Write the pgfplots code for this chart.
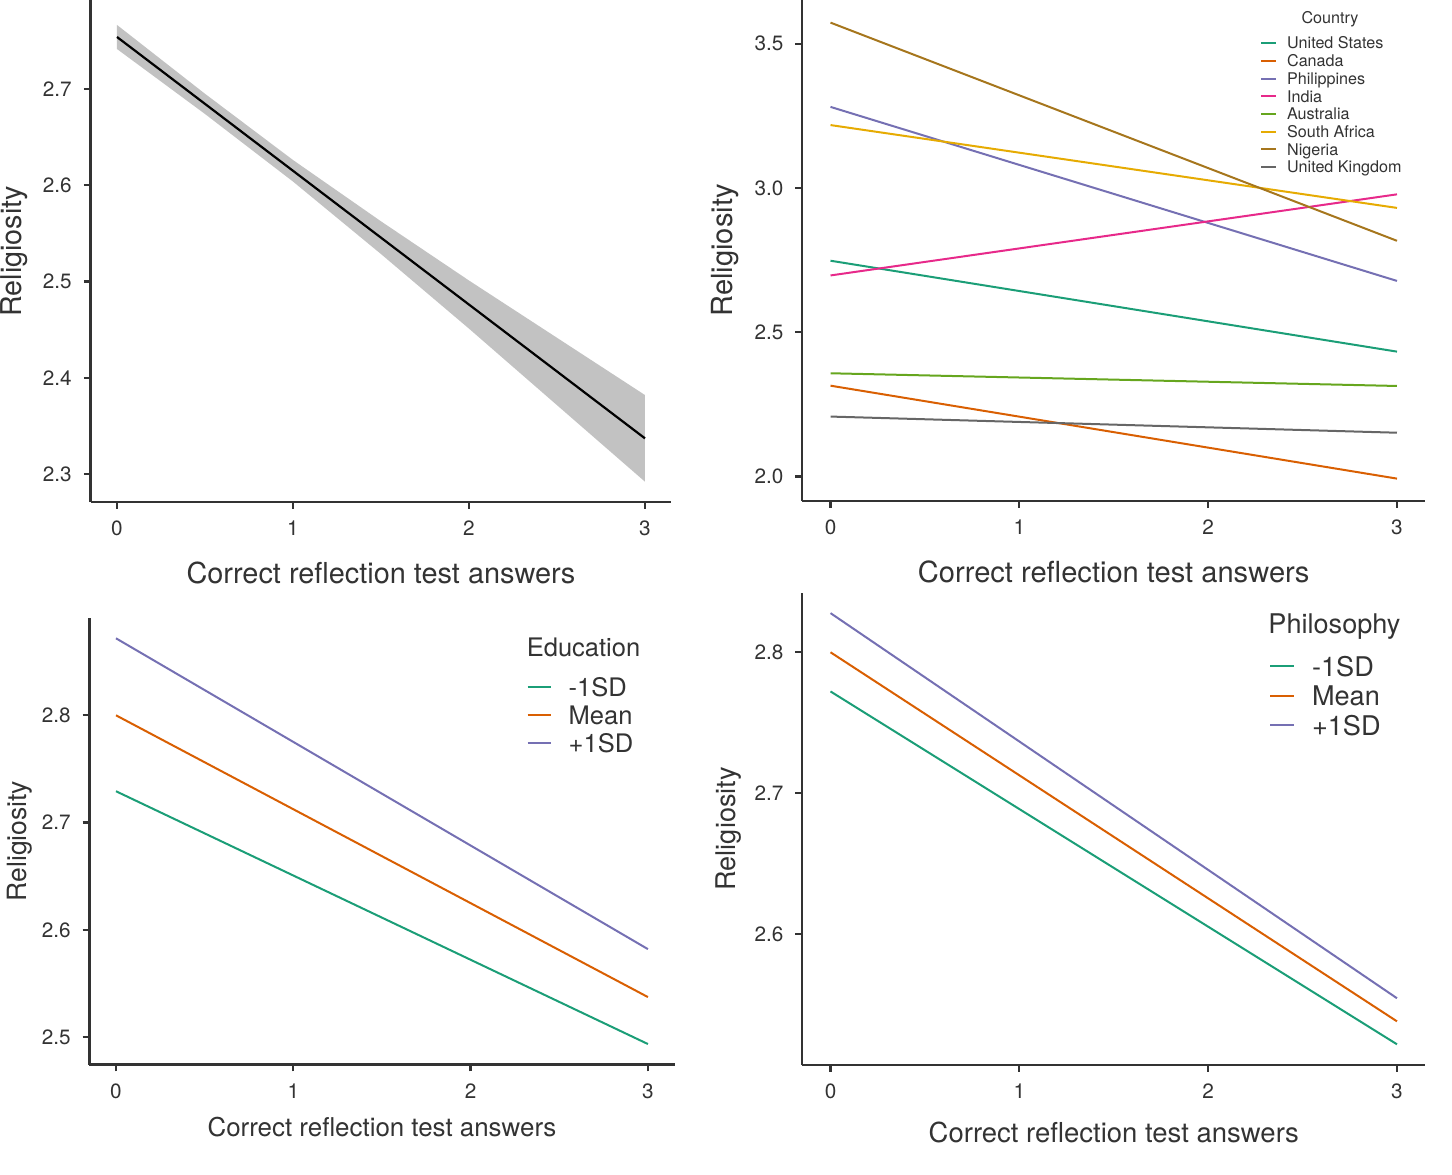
\documentclass[border=0pt]{standalone}
\usepackage{pgfplots}
\pgfplotsset{compat=1.18}
\usepackage{fontspec}
\setmainfont{TeX Gyre Heros}
\definecolor{cUS}{HTML}{1B9E77}
\definecolor{cCA}{HTML}{D95F02}
\definecolor{cPH}{HTML}{7570B3}
\definecolor{cIN}{HTML}{E7298A}
\definecolor{cAU}{HTML}{66A61E}
\definecolor{cSA}{HTML}{E6AB02}
\definecolor{cNG}{HTML}{A6761D}
\definecolor{cUK}{HTML}{666666}
\definecolor{txt}{HTML}{333333}
\definecolor{axc}{HTML}{333333}
\definecolor{rib}{HTML}{C2C2C2}
\pgfplotsset{
  gg/.style={
    scale only axis,
    axis lines*=left,
    axis line style={axc, line width=1.15bp},
    tick align=outside,
    major tick length=3.4bp,
    tick style={axc, line width=1.15bp},
    xtick={0,1,2,3},
    xmin=-0.15, xmax=3.15,
    ticklabel style={font=\fontsize{10.4}{12}\selectfont, text=txt},
    /pgf/number format/assume math mode=true,
    yticklabel style={/pgf/number format/fixed, /pgf/number format/fixed zerofill, /pgf/number format/precision=1, xshift=-2.5bp},
    xticklabel style={yshift=-2.5bp},
    every axis plot/.append style={line width=1bp},
    legend cell align=left,
    clip=false,
  },
}
\begin{document}
\begin{tikzpicture}
\path[use as bounding box] (0,0) rectangle (726bp,-587.5bp);

% Panel 1
\begin{axis}[gg, anchor=south west, at={(45.3bp,-251bp)}, width=290.4bp, height=250.75bp,
  ymin=2.2709, ymax=2.7919, ytick={2.3,2.4,2.5,2.6,2.7},
  xlabel={Correct reflection test answers}, ylabel={Religiosity},
  xlabel style={at={(axis description cs:0.5,-0.1416)}, anchor=center, font=\fontsize{14.5}{17}\selectfont, text=txt},
  ylabel style={at={(axis description cs:-0.1315,0.5)}, anchor=center, font=\fontsize{14.4}{17}\selectfont, text=txt}]
\addplot[fill=rib, draw=none, line width=0pt] coordinates {
 (0,2.7665) (0.5,2.695) (1,2.6262) (1.5,2.5625) (2,2.501) (2.5,2.4415) (3,2.382)
 (3,2.292) (2.5,2.3715) (2,2.451) (1.5,2.5285) (1,2.6038) (0.5,2.674) (0,2.7415)} -- cycle;
\addplot[black, line width=1.1bp] coordinates {(0,2.754) (3,2.337)};
\end{axis}

% Panel 2
\begin{axis}[gg, anchor=south west, at={(401.1bp,-250.4bp)}, width=311.55bp, height=250.4bp,
  ymin=1.9161, ymax=3.6514, ytick={2.0,2.5,3.0,3.5},
  xlabel={Correct reflection test answers}, ylabel={Religiosity},
  xlabel style={at={(axis description cs:0.5,-0.1422)}, anchor=center, font=\fontsize{14.6}{17}\selectfont, text=txt},
  ylabel style={at={(axis description cs:-0.1245,0.5)}, anchor=center, font=\fontsize{14.6}{17}\selectfont, text=txt},
  legend style={at={(axis description cs:0.7349,0.9263)}, anchor=north west, draw=none, fill=none, inner sep=0pt, outer sep=0pt, row sep=0pt, column sep=5bp,
    font=\fontsize{8.1}{9}\selectfont, text=txt, cells={anchor=base west}, nodes={inner sep=0pt, text height=6bp, text depth=2.85bp}},
  legend image code/.code={\draw[#1, line width=1bp] (0bp,2.9bp) -- (7.5bp,2.9bp);}]
\addplot[cUS] coordinates {(0,2.748) (3,2.433)};
\addplot[cCA] coordinates {(0,2.315) (3,1.993)};
\addplot[cPH] coordinates {(0,3.281) (3,2.678)};
\addplot[cIN] coordinates {(0,2.697) (3,2.978)};
\addplot[cAU] coordinates {(0,2.358) (3,2.314)};
\addplot[cSA] coordinates {(0,3.218) (3,2.931)};
\addplot[cNG] coordinates {(0,3.573) (3,2.817)};
\addplot[cUK] coordinates {(0,2.208) (3,2.152)};
\legend{United States, Canada, Philippines, India, Australia, South Africa, Nigeria, United Kingdom}
\node[anchor=base, font=\fontsize{8.1}{9}\selectfont, text=txt, inner sep=0pt] at (axis description cs:0.8471,0.9535) {Country};
\end{axis}

% Panel 3
\begin{axis}[gg, anchor=south west, at={(44.7bp,-532.25bp)}, width=292.55bp, height=223.4bp,
  ymin=2.4744, ymax=2.891, ytick={2.5,2.6,2.7,2.8},
  xlabel={Correct reflection test answers}, ylabel={Religiosity},
  xlabel style={at={(axis description cs:0.5,-0.1399)}, anchor=center, font=\fontsize{13}{15}\selectfont, text=txt},
  ylabel style={at={(axis description cs:-0.1198,0.5)}, anchor=center, font=\fontsize{13.3}{15}\selectfont, text=txt},
  legend style={at={(axis description cs:0.7474,0.8691)}, anchor=north west, draw=none, fill=none, inner sep=0pt, outer sep=0pt, row sep=0pt, column sep=8.5bp,
    font=\fontsize{12.8}{15}\selectfont, text=txt, cells={anchor=base west}, nodes={inner sep=0pt, text height=10bp, text depth=4bp}},
  legend image code/.code={\draw[#1, line width=1bp] (0bp,4.6bp) -- (11.5bp,4.6bp);}]
\addplot[cUS] coordinates {(0,2.7292) (3,2.4935)};
\addplot[cCA] coordinates {(0,2.800) (3,2.5373)};
\addplot[cPH] coordinates {(0,2.8718) (3,2.582)};
\legend{-1SD, Mean, +1SD}
\node[anchor=base west, font=\fontsize{12.8}{15}\selectfont, text=txt, inner sep=0pt] at (axis description cs:0.7469,0.9135) {Education};
\end{axis}

% Panel 4
\begin{axis}[gg, anchor=south west, at={(401.1bp,-532.5bp)}, width=311.55bp, height=236.15bp,
  ymin=2.507, ymax=2.8423, ytick={2.6,2.7,2.8},
  xlabel={Correct reflection test answers}, ylabel={Religiosity},
  xlabel style={at={(axis description cs:0.5,-0.1436)}, anchor=center, font=\fontsize{13.8}{16}\selectfont, text=txt},
  ylabel style={at={(axis description cs:-0.1181,0.5)}, anchor=center, font=\fontsize{13.6}{16}\selectfont, text=txt},
  legend style={at={(axis description cs:0.7493,0.8676)}, anchor=north west, draw=none, fill=none, inner sep=0pt, outer sep=0pt, row sep=0pt, column sep=8.5bp,
    font=\fontsize{13.6}{16}\selectfont, text=txt, cells={anchor=base west}, nodes={inner sep=0pt, text height=10.5bp, text depth=4.25bp}},
  legend image code/.code={\draw[#1, line width=1bp] (0bp,4.9bp) -- (12bp,4.9bp);}]
\addplot[cUS] coordinates {(0,2.7722) (3,2.5217)};
\addplot[cCA] coordinates {(0,2.800) (3,2.538)};
\addplot[cPH] coordinates {(0,2.8278) (3,2.5544)};
\legend{-1SD, Mean, +1SD}
\node[anchor=base west, font=\fontsize{13.6}{16}\selectfont, text=txt, inner sep=0pt] at (axis description cs:0.7477,0.9144) {Philosophy};
\end{axis}
\end{tikzpicture}
\end{document}
